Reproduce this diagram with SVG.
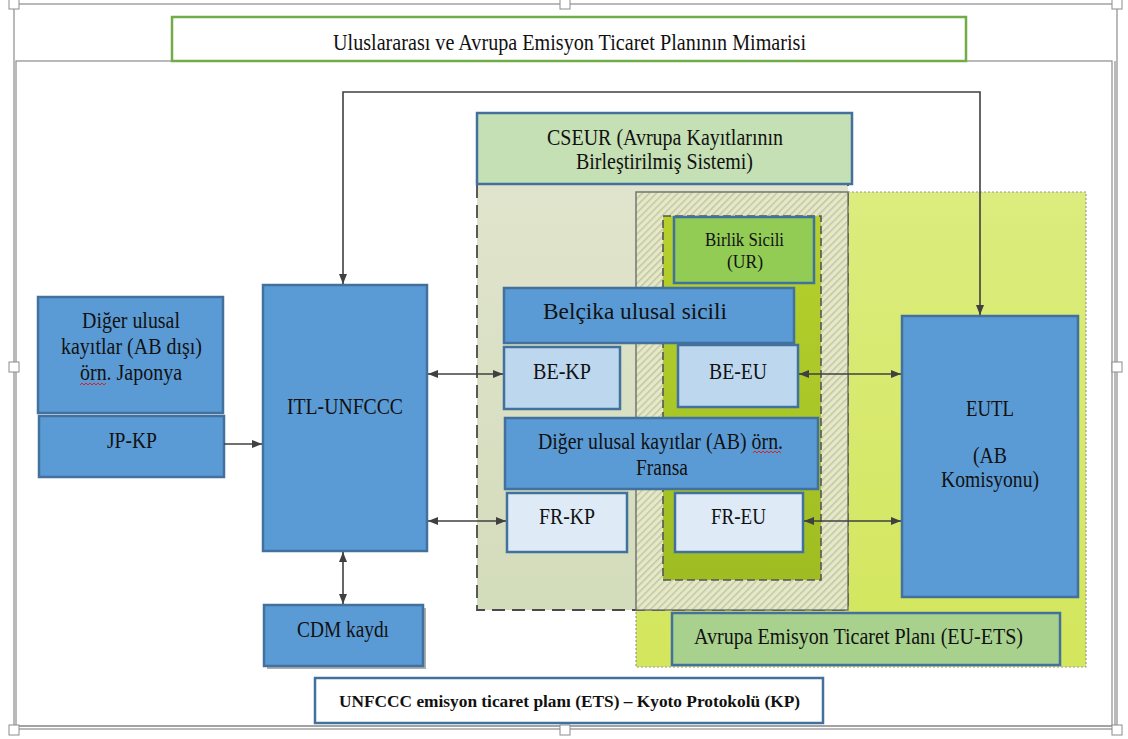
<svg xmlns="http://www.w3.org/2000/svg" width="1128" height="739" viewBox="0 0 1128 739">
<style>
text{font-family:"Liberation Serif","Times New Roman",serif;fill:#111;font-size:23px}
.sm{font-size:19px}
.bd{font-size:16px;font-weight:bold}
.blue{fill:#5b9bd5;stroke:#41719c;stroke-width:2.5}
.lb{fill:#bdd7ee;stroke:#41719c;stroke-width:2.5}
.xlb{fill:#deebf7;stroke:#41719c;stroke-width:2.5}
.conn{fill:none;stroke:#404040;stroke-width:1.6}
.frame{fill:none;stroke:#8c8c8c;stroke-width:1.2}
.handle{fill:#fff;stroke:#8c8c8c;stroke-width:1}
.squig{fill:none;stroke:#e02020;stroke-width:1}
</style>
<defs>
<marker id="ah" viewBox="0 0 10 8" refX="10" refY="4" markerWidth="10" markerHeight="8" markerUnits="userSpaceOnUse" orient="auto-start-reverse">
<path d="M0,0 L10,4 L0,8 z" fill="#404040"/>
</marker>
<pattern id="hatch" width="5" height="5" patternUnits="userSpaceOnUse" patternTransform="rotate(45)">
<rect width="5" height="5" fill="#e5e9c6"/>
<rect width="1.5" height="5" fill="#c3c5a8"/>
</pattern>
<linearGradient id="gCseur" x1="0" y1="0" x2="0" y2="1">
<stop offset="0" stop-color="#e0e4cc"/><stop offset="1" stop-color="#d3dcbb"/>
</linearGradient>
<linearGradient id="gYel" x1="0" y1="0" x2="0" y2="1">
<stop offset="0" stop-color="#dcec7e"/><stop offset="1" stop-color="#d3e65c"/>
</linearGradient>
<linearGradient id="gUR" x1="0" y1="0" x2="0" y2="1">
<stop offset="0" stop-color="#b6d12e"/><stop offset="1" stop-color="#9fbd22"/>
</linearGradient>
</defs>
<rect width="1128" height="739" fill="#fff"/>

<g id="frame">
<rect class="frame" x="14" y="4" width="1103" height="725"/>
<line class="frame" x1="1115" y1="61" x2="1115" y2="727"/>
<line class="frame" x1="14" y1="726" x2="1115" y2="726"/>
<rect class="frame" x="16" y="61" width="1096" height="665"/>
<rect class="handle" x="9" y="-1" width="10" height="10"/>
<rect class="handle" x="560" y="-1" width="10" height="10"/>
<rect class="handle" x="1112" y="-1" width="10" height="10"/>
<rect class="handle" x="9" y="362" width="10" height="10"/>
<rect class="handle" x="1112" y="362" width="10" height="10"/>
<rect class="handle" x="9" y="725" width="10" height="10"/>
<rect class="handle" x="560" y="725" width="10" height="10"/>
<rect class="handle" x="1112" y="725" width="10" height="10"/>
</g>

<g id="title">
<rect x="172" y="17" width="794" height="44" fill="#fff" stroke="#70ad47" stroke-width="2.5"/>
<text x="333" y="50" textLength="473" lengthAdjust="spacingAndGlyphs">Uluslararası ve Avrupa Emisyon Ticaret Planının Mimarisi</text>
</g>

<g id="eu-ets-region">
<rect x="636" y="192" width="450" height="475" fill="url(#gYel)" stroke="#9a9a9a" stroke-width="1.2" stroke-dasharray="2 2"/>
</g>
<g id="cseur-region">
<rect x="477" y="184" width="371" height="426" fill="url(#gCseur)" stroke="#4a4a4a" stroke-width="1.8" stroke-dasharray="13 7"/>
</g>
<g id="hatch-region">
<rect x="636" y="192" width="212" height="418" fill="url(#hatch)" stroke="#6e6e6e" stroke-width="1.4"/>
</g>
<g id="ur-region">
<rect x="663" y="216" width="158" height="364" fill="url(#gUR)" stroke="#555" stroke-width="1.6" stroke-dasharray="8 4"/>
</g>

<g id="cseur">
<rect x="477" y="113" width="375" height="71" fill="#c5e0b4" stroke="#41719c" stroke-width="2.5"/>
<text x="547" y="145" textLength="236" lengthAdjust="spacingAndGlyphs">CSEUR (Avrupa Kayıtlarının</text>
<text x="576" y="169" textLength="177" lengthAdjust="spacingAndGlyphs">Birleştirilmiş Sistemi)</text>
</g>

<g id="birlik-sicili">
<rect x="674" y="217" width="140" height="66" fill="#92cc55" stroke="#41719c" stroke-width="2.5"/>
<text class="sm" x="705" y="246" textLength="79" lengthAdjust="spacingAndGlyphs">Birlik Sicili</text>
<text class="sm" x="727" y="268" textLength="36" lengthAdjust="spacingAndGlyphs">(UR)</text>
</g>

<g id="belcika">
<rect class="blue" x="504" y="288" width="290" height="55"/>
<text x="543" y="319" textLength="184" lengthAdjust="spacingAndGlyphs">Belçika ulusal sicili</text>
</g>

<g id="be-kp">
<rect class="lb" x="504" y="347" width="116" height="62"/>
<text x="533" y="379" textLength="58" lengthAdjust="spacingAndGlyphs">BE-KP</text>
</g>

<g id="be-eu">
<rect class="lb" x="678" y="345" width="120" height="62"/>
<text x="709" y="379" textLength="58" lengthAdjust="spacingAndGlyphs">BE-EU</text>
</g>

<g id="fransa">
<rect class="blue" x="505" y="418" width="313" height="71"/>
<text x="538" y="449" textLength="245" lengthAdjust="spacingAndGlyphs">Diğer ulusal kayıtlar (AB) örn.</text>
<polyline class="squig" points="753,453 755,451 757,453 759,451 761,453 763,451 765,453 767,451 769,453 771,451 773,453 775,451 777,453 779,451 781,453"/>
<text x="636" y="475" textLength="52" lengthAdjust="spacingAndGlyphs">Fransa</text>
</g>

<g id="fr-kp">
<rect class="xlb" x="507" y="493" width="120" height="59"/>
<text x="539" y="524" textLength="56" lengthAdjust="spacingAndGlyphs">FR-KP</text>
</g>

<g id="fr-eu">
<rect class="xlb" x="675" y="493" width="128" height="59"/>
<text x="711" y="524" textLength="55" lengthAdjust="spacingAndGlyphs">FR-EU</text>
</g>

<g id="eutl">
<rect class="blue" x="902" y="316" width="176" height="281"/>
<text x="966" y="416" textLength="48" lengthAdjust="spacingAndGlyphs">EUTL</text>
<text x="973" y="463" textLength="34" lengthAdjust="spacingAndGlyphs">(AB</text>
<text x="941" y="487" textLength="98" lengthAdjust="spacingAndGlyphs">Komisyonu)</text>
</g>

<g id="eu-ets">
<rect x="672" y="613" width="388" height="52" fill="#a9d18e" stroke="#41719c" stroke-width="2.5"/>
<text x="694" y="644" textLength="329" lengthAdjust="spacingAndGlyphs">Avrupa Emisyon Ticaret Planı (EU-ETS)</text>
</g>

<g id="diger-japonya">
<rect class="blue" x="38" y="297" width="185" height="116"/>
<text x="82" y="328" textLength="98" lengthAdjust="spacingAndGlyphs">Diğer ulusal</text>
<text x="61" y="354" textLength="141" lengthAdjust="spacingAndGlyphs">kayıtlar (AB dışı)</text>
<text x="80" y="380" textLength="102" lengthAdjust="spacingAndGlyphs">örn. Japonya</text>
<polyline class="squig" points="80,385 82,383 84,385 86,383 88,385 90,383 92,385 94,383 96,385 98,383 100,385 102,383 104,385 106,383"/>
</g>

<g id="jp-kp">
<rect class="blue" x="39" y="416" width="185" height="61"/>
<text x="107" y="448" textLength="50" lengthAdjust="spacingAndGlyphs">JP-KP</text>
</g>

<g id="itl">
<rect class="blue" x="263" y="285" width="164" height="266"/>
<text x="287" y="414" textLength="116" lengthAdjust="spacingAndGlyphs">ITL-UNFCCC</text>
</g>

<g id="cdm">
<rect x="267" y="608" width="159" height="61" fill="#6d6d6d" opacity="0.55"/>
<rect class="blue" x="264" y="605" width="159" height="61"/>
<text x="297" y="637" textLength="92" lengthAdjust="spacingAndGlyphs">CDM kaydı</text>
</g>

<g id="unfccc">
<rect x="315" y="678" width="508" height="45" fill="#fff" stroke="#41719c" stroke-width="2.5"/>
<text class="bd" x="339" y="707" textLength="461" lengthAdjust="spacingAndGlyphs">UNFCCC emisyon ticaret planı (ETS) – Kyoto Protokolü (KP)</text>
</g>

<g id="connectors">
<path class="conn" d="M343,284 V92 H980 V315" marker-start="url(#ah)" marker-end="url(#ah)"/>
<path class="conn" d="M224,444 H262" marker-end="url(#ah)"/>
<path class="conn" d="M428,374 H503" marker-start="url(#ah)" marker-end="url(#ah)"/>
<path class="conn" d="M428,521 H506" marker-start="url(#ah)" marker-end="url(#ah)"/>
<path class="conn" d="M799,374 H901" marker-start="url(#ah)" marker-end="url(#ah)"/>
<path class="conn" d="M804,521 H901" marker-start="url(#ah)" marker-end="url(#ah)"/>
<path class="conn" d="M343,552 V604" marker-start="url(#ah)" marker-end="url(#ah)"/>
</g>
</svg>
